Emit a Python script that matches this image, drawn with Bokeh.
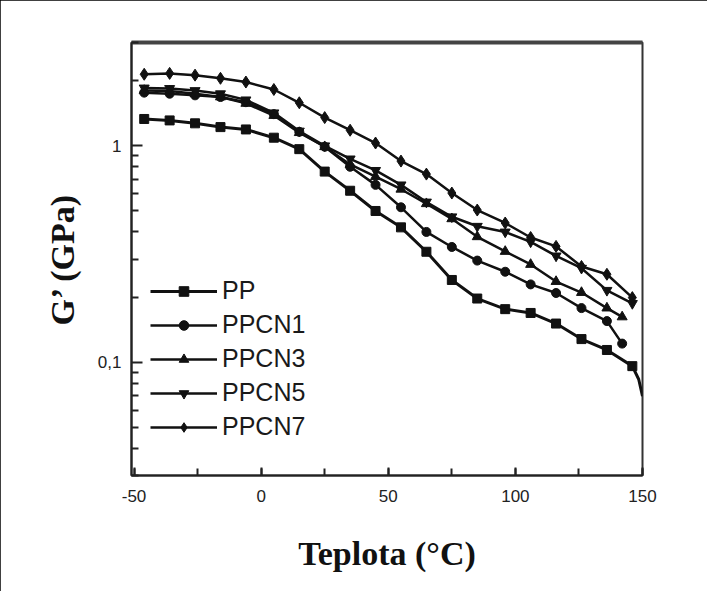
from bokeh.plotting import figure
from bokeh.models import (Range1d, FixedTicker, SingleIntervalTicker, CustomJSTickFormatter,
                          Legend, LegendItem, LinearAxis)
from bokeh.embed import file_html
from bokeh.resources import INLINE

# ---- data (temperature in °C, G' in GPa) ----
temps = [-46, -36, -26, -16, -6, 5, 15, 25, 35, 45, 55, 65, 75, 85, 96, 106, 116, 126, 136, 146]
temps_142 = [-46, -36, -26, -16, -6, 5, 15, 25, 35, 45, 55, 65, 75, 85, 96, 106, 116, 126, 136, 142]

pp = [1.33, 1.31, 1.27, 1.22, 1.19, 1.09, 0.965, 0.76, 0.62, 0.50, 0.42, 0.324, 0.24, 0.197,
      0.176, 0.169, 0.151, 0.128, 0.114, 0.096]
pp_tail_t = [148.5, 150]
pp_tail = [0.0835, 0.0697]

ppcn1 = [1.76, 1.74, 1.71, 1.68, 1.59, 1.40, 1.16, 0.99, 0.80, 0.66, 0.52, 0.40, 0.341, 0.295,
         0.262, 0.229, 0.209, 0.178, 0.155, 0.122]
ppcn3 = [1.80, 1.79, 1.74, 1.68, 1.57, 1.38, 1.15, 0.99, 0.82, 0.72, 0.63, 0.54, 0.46, 0.38,
         0.325, 0.283, 0.236, 0.21, 0.178, 0.162]
ppcn5 = [1.85, 1.84, 1.80, 1.74, 1.63, 1.42, 1.17, 1.00, 0.87, 0.77, 0.66, 0.55, 0.47, 0.425,
         0.40, 0.36, 0.31, 0.272, 0.215, 0.187]
ppcn7 = [2.14, 2.16, 2.12, 2.05, 1.97, 1.82, 1.58, 1.35, 1.18, 1.03, 0.85, 0.74, 0.605, 0.505,
         0.44, 0.377, 0.343, 0.277, 0.255, 0.199]

labels = ["PP", "PPCN1", "PPCN3", "PPCN5", "PPCN7"]
y_major_ticks = [0.1, 1]
y_minor_ticks = [0.03, 0.04, 0.05, 0.06, 0.07, 0.08, 0.09,
                 0.2, 0.3, 0.4, 0.5, 0.6, 0.7, 0.8, 0.9, 2, 3]
x_tick_interval = 50

p = figure(width=707, height=591, x_range=Range1d(-51, 150), y_range=Range1d(0.03, 3.0),
           y_axis_type="log", output_backend="svg", toolbar_location=None,
           min_border_left=131, min_border_right=65, min_border_top=42, min_border_bottom=116)
p.xgrid.visible = False
p.ygrid.visible = False
p.outline_line_color = "#333333"
p.outline_line_width = 2
p.background_fill_color = "white"
p.border_fill_color = "white"
p.styles = {"outline": "2px solid black", "outline-offset": "-2px"}

lw = 2.5
col = "#111111"
items = []

# PP
r_l = p.line(temps + pp_tail_t, pp + pp_tail, line_color=col, line_width=3)
r_m = p.scatter(temps, pp, marker="square", size=9, color=col)
items.append(LegendItem(label=labels[0], renderers=[r_l, r_m]))
# PPCN1
r_l = p.line(temps_142, ppcn1, line_color=col, line_width=lw)
r_m = p.scatter(temps_142, ppcn1, marker="circle", size=9, color=col)
items.append(LegendItem(label=labels[1], renderers=[r_l, r_m]))
# PPCN3
r_l = p.line(temps_142, ppcn3, line_color=col, line_width=lw)
r_m = p.scatter(temps_142, ppcn3, marker="triangle", size=10, color=col)
items.append(LegendItem(label=labels[2], renderers=[r_l, r_m]))
# PPCN5
r_l = p.line(temps, ppcn5, line_color=col, line_width=lw)
r_m = p.scatter(temps, ppcn5, marker="inverted_triangle", size=10, color=col)
items.append(LegendItem(label=labels[3], renderers=[r_l, r_m]))
# PPCN7
r_l = p.line(temps, ppcn7, line_color=col, line_width=lw)
r_m = p.scatter(temps, ppcn7, marker="diamond", size=12, color=col)
items.append(LegendItem(label=labels[4], renderers=[r_l, r_m]))

legend = Legend(items=items, location=(19, 34), glyph_width=67, glyph_height=24,
                label_height=24, spacing=5, label_standoff=5, padding=0, margin=0,
                border_line_color=None, background_fill_alpha=0,
                label_text_font="Liberation Sans", label_text_font_size="25px",
                label_text_color="#1a1a1a")
p.add_layout(legend, "center")

# x axis
xa = p.xaxis[0]
xa.ticker = SingleIntervalTicker(interval=x_tick_interval, num_minor_ticks=2)
xa.formatter = CustomJSTickFormatter(code="return tick.toFixed(0);")
xa.major_tick_in = 8
xa.major_tick_out = 0
xa.minor_tick_in = 7
xa.minor_tick_out = 0
xa.axis_line_width = 2
xa.axis_line_color = "#222222"
xa.major_tick_line_color = "#222222"
xa.minor_tick_line_color = "#222222"
xa.major_tick_line_width = 2
xa.minor_tick_line_width = 2
xa.major_label_text_font = "Liberation Sans"
xa.major_label_text_font_size = "17px"
xa.major_label_text_color = "#222222"
xa.major_label_standoff = 14
xa.axis_label = "Teplota (°C)"
xa.axis_label_text_font = "Liberation Serif"
xa.axis_label_text_font_style = "bold"
xa.axis_label_text_font_size = "34px"
xa.axis_label_text_color = "#111111"
xa.axis_label_standoff = 30

# y axis
ya = p.yaxis[0]
ya.ticker = FixedTicker(ticks=y_major_ticks, minor_ticks=y_minor_ticks)
ya.formatter = CustomJSTickFormatter(code="return (tick >= 1 ? tick.toFixed(0) : String(tick).replace('.', ','));")
ya.major_tick_in = 11
ya.major_tick_out = 0
ya.minor_tick_in = 7
ya.minor_tick_out = 0
ya.axis_line_width = 2
ya.axis_line_color = "#222222"
ya.major_tick_line_color = "#222222"
ya.minor_tick_line_color = "#222222"
ya.major_tick_line_width = 2
ya.minor_tick_line_width = 2
ya.major_label_text_font = "Liberation Sans"
ya.major_label_text_font_size = "17px"
ya.major_label_text_color = "#222222"
ya.major_label_standoff = 10
ya.axis_label = "G’ (GPa)"
ya.axis_label_text_font = "Liberation Serif"
ya.axis_label_text_font_style = "bold"
ya.axis_label_text_font_size = "34px"
ya.axis_label_text_color = "#111111"
ya.axis_label_standoff = 14

# thick top frame line (no ticks, no labels)
top = LinearAxis(ticker=FixedTicker(ticks=[]), axis_line_width=4, axis_line_color="#444444",
                 major_tick_line_color=None, minor_tick_line_color=None)
p.add_layout(top, "above")

open("out.html", "w").write(file_html(p, INLINE))
